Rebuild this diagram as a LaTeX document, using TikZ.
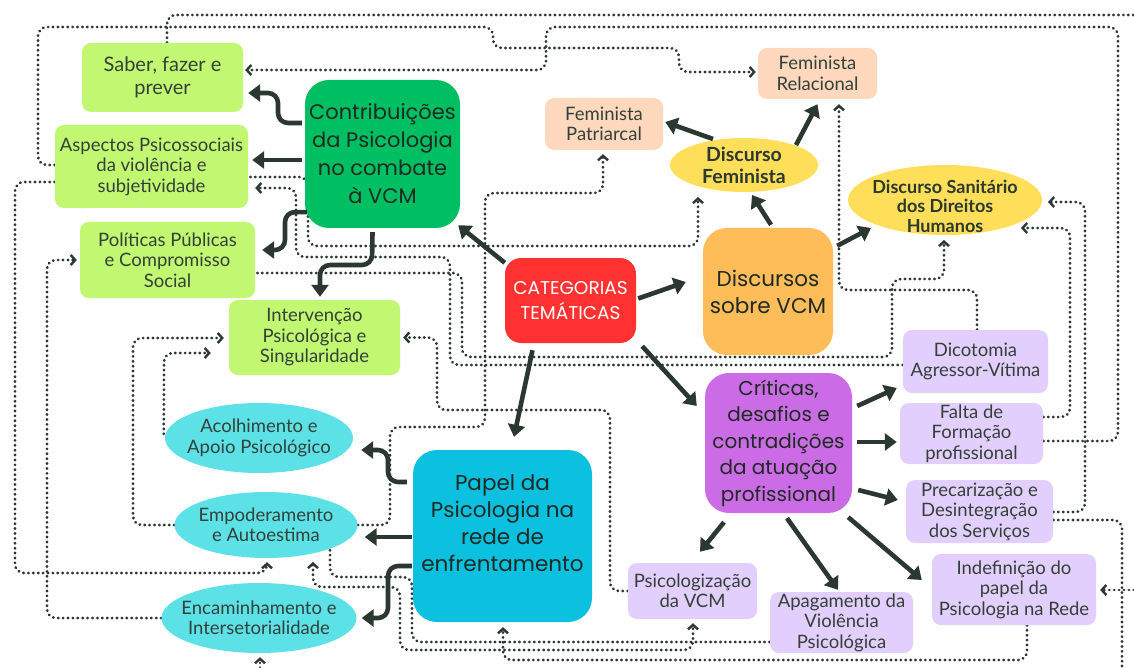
\documentclass[tikz,border=0pt]{standalone}
\usepackage{fontspec}
\setmainfont{Lato}
\newfontfamily\hand{Poppins}
\usetikzlibrary{arrows.meta,calc,backgrounds,shapes.geometric}
\definecolor{cLime}{HTML}{C2F771}
\definecolor{cDgreen}{HTML}{00BF63}
\definecolor{cRed}{HTML}{FF3131}
\definecolor{cOrange}{HTML}{FFBD59}
\definecolor{cYellow}{HTML}{FFDE59}
\definecolor{cPeach}{HTML}{FFD8BE}
\definecolor{cPurple}{HTML}{CB6CE6}
\definecolor{cLav}{HTML}{E2CFFD}
\definecolor{cCyan}{HTML}{0CC0DF}
\definecolor{cLcyan}{HTML}{5CE1E6}
\definecolor{cLine}{HTML}{2A3830}
\definecolor{cText}{HTML}{344039}
\definecolor{cBold}{HTML}{2B372F}
\definecolor{cBig}{HTML}{1E2A22}
\begin{document}
\begin{tikzpicture}[x=1pt,y=-1pt,
  lbl/.style={font=\fontsize{18.5}{20.5}\selectfont, text=cText, align=center, inner sep=0pt},
  bl/.style={font=\bfseries\fontsize{19.5}{22}\selectfont, text=cBold, align=center, inner sep=0pt},
  sbox/.style={lbl, rectangle, rounded corners=9pt},
  bbox/.style={rectangle, rounded corners=24pt, inner sep=0pt, align=center, text=cBig, font=\hand\fontsize{21}{28}\selectfont},
  btxt/.style={inner sep=0pt, align=center, text=cBig, font=\hand\fontsize{21.5}{27}\selectfont},
  elli/.style={ellipse, inner sep=0pt},
  sarr/.style={draw=cLine, line width=4.6pt, rounded corners=10pt, -{Triangle[length=12pt,width=17pt]}},
  dl/.style={draw=cLine, line width=2.8pt, dash pattern=on 0.4pt off 4.5pt, line cap=round, rounded corners=9pt},
  dtip/.style={-{Straight Barb[length=4.5pt,width=10pt,line width=2.4pt]}},
  dboth/.style={{Straight Barb[length=4.5pt,width=10pt,line width=2.4pt]}-{Straight Barb[length=4.5pt,width=10pt,line width=2.4pt]}}
]
\useasboundingbox (0,0) rectangle (1134,668);

% ---------- nodes ----------
\node[sbox, fill=cLime, minimum width=161pt, minimum height=69pt, font=\fontsize{20}{23}\selectfont] (saber) at (162.5,77.5) {Saber, fazer e\\prever};
\node[sbox, fill=cLime, minimum width=193pt, minimum height=83pt] (aspectos) at (151.5,166.5) {Aspectos Psicossociais\\da violência e\\subjetividade};
\node[sbox, fill=cLime, minimum width=175pt, minimum height=76pt] (politicas) at (167.5,260) {Políticas Públicas\\e Compromisso\\Social};
\node[sbox, fill=cLime, minimum width=171pt, minimum height=75pt] (interv) at (314.5,337.5) {Intervenção\\Psicológica e\\Singularidade};
\node[bbox, fill=cDgreen, minimum width=155pt, minimum height=148pt] (contrib) at (382.5,154) {Contribuições\\da Psicologia\\no combate\\à VCM};
\node[bbox, fill=cRed, text=white, minimum width=131pt, minimum height=85pt, rounded corners=16pt, font=\hand\fontsize{18.5}{25}\selectfont] (cat) at (570.5,300.5) {CATEGORIAS\\TEMÁTICAS};
\node[bbox, fill=cOrange, minimum width=130pt, minimum height=127pt, font=\hand\fontsize{21.5}{27}\selectfont] (disc) at (768,291.5) {Discursos\\sobre VCM};
\node[elli, fill=cYellow, minimum width=148pt, minimum height=54pt, label={[bl]center:{Discurso\\Feminista}}] (dfem) at (744,165) {};
\node[elli, fill=cYellow, minimum width=194pt, minimum height=70pt, label={[bl, font=\bfseries\fontsize{18}{19.5}\selectfont, yshift=-6pt]center:{Discurso Sanitário\\dos Direitos\\Humanos}}] (dsan) at (945,200) {};
\node[sbox, fill=cPeach, minimum width=118pt, minimum height=52pt] (fpat) at (604,124) {Feminista\\Patriarcal};
\node[sbox, fill=cPeach, minimum width=119pt, minimum height=51pt] (frel) at (817.5,73.5) {Feminista\\Relacional};
\node[bbox, fill=cPurple, minimum width=147pt, minimum height=140pt, font=\hand\fontsize{20}{26.5}\selectfont] (crit) at (778.5,443) {Críticas,\\desafios e\\contradições\\da atuação\\profissional};
\node[sbox, fill=cLav, minimum width=145pt, minimum height=63pt] (dico) at (975.5,361.5) {Dicotomia\\Agressor-Vítima};
\node[sbox, fill=cLav, minimum width=143pt, minimum height=61pt] (falta) at (971.5,433.5) {Falta de\\Formação\\profissional};
\node[sbox, fill=cLav, minimum width=147pt, minimum height=63pt] (prec) at (979.5,511.5) {Precarização e\\Desintegração\\dos Serviços};
\node[sbox, fill=cLav, minimum width=164pt, minimum height=71pt] (indef) at (1014,589.5) {Indefinição do\\papel da\\Psicologia na Rede};
\node[sbox, fill=cLav, minimum width=143pt, minimum height=61pt] (apag) at (841.5,622.5) {Apagamento da\\Violência\\Psicológica};
\node[sbox, fill=cLav, minimum width=129pt, minimum height=56pt] (psicz) at (692.5,591) {Psicologização\\da VCM};
\node[bbox, fill=cCyan, minimum width=179pt, minimum height=172pt, label={[btxt, yshift=13pt]center:{Papel da\\Psicologia na\\rede de\\enfrentamento}}] (papel) at (502.5,536) {};
\node[elli, fill=cLcyan, minimum width=188pt, minimum height=70pt, label={[lbl]center:{Acolhimento e\\Apoio Psicológico}}] (acolh) at (259,438) {};
\node[elli, fill=cLcyan, minimum width=183pt, minimum height=66pt, label={[lbl]center:{Empoderamento\\e Autoestima}}] (empod) at (266,525) {};
\node[elli, fill=cLcyan, minimum width=195pt, minimum height=70pt, label={[lbl]center:{Encaminhamento e\\Intersetorialidade}}] (encam) at (259,618) {};

\coordinate (eA) at (1134,15);
\coordinate (eP) at (1122,668);
\coordinate (eQ) at (1134,590);
\coordinate (eR) at (260,668);

% ---------- dotted connectors ----------
\begin{pgfonlayer}{background}
\fill[white] (0,0) rectangle (1134,668);
\draw[dl] ($(saber.north)+(4.5,0)$) -- (167,15) -- (eA);
\draw[dl,dtip] ($(falta.east)+(0,7.5)$) -- (1118,441) -- (1118,27) -- (546,27) -- (546,70) -- ($(saber.east)+(2,-7.5)$);
\draw[dl,dtip] ($(aspectos.west)+(0,-1.5)$) -- (38,165) -- (38,27) -- (493,27) -- (493,48) -- (679,48) -- (679,72) -- ($(frel.west)+(-2,-1.5)$);
\draw[dl,dtip] ($(aspectos.east)+(2,10.5)$) -- (308,177) -- (308,246) -- (698,246) -- ($(dfem.center)+(-46,32)$);
\draw[dl,dtip] ($(dico.west)+(0,3.5)$) -- (450,365) -- (450,257) -- (296,257) -- (296,188) -- ($(aspectos.east)+(7,21.5)$);
\draw[dl,dtip] ($(politicas.east)+(2,13)$) -- (462,273) -- (462,357) -- (892,357) -- (892,279) -- (944,279) -- ($(dsan.center)+(-1,40)$);
\draw[dl,dtip] ($(dico.north)+(1.5,0)$) -- (977,290) -- (839,290) -- ($(frel.south)+(21.5,5)$);
\draw[dl,dtip] (empod.east) -- (390,525) -- (390,427) -- (485,427) -- (485,193) -- (603,193) -- ($(fpat.south)+(-1,4)$);
\draw[dl,dtip] (psicz.west) -- (610,591) -- (610,410) -- (437,410) -- (437,337.5) -- ($(interv.east)+(3,0)$);
\draw[dl,dtip] ($(acolh.west)+(-1,-4)$) -- (164,353) -- ($(interv.west)+(-18,15.5)$);
\draw[dl,dtip] (empod.west) -- (133,525) -- (133,338) -- ($(interv.west)+(-5,0.5)$);
\draw[dl,dtip] (encam.west) -- (47,618) -- (47,260) -- ($(politicas.west)+(-3,0)$);
\draw[dl,dtip] ($(aspectos.west)+(0,15.5)$) -- (15,182) -- (15,573) -- (267,573) -- ($(empod.south)+(1,4)$);
\draw[dl] ($(empod.center)+(64,25)$) -- (330,577) -- (412,577) -- (412,642) -- ($(apag.west)+(0,19.5)$);
\draw[dl,dboth] ($(empod.center)+(47,37)$) -- (313,587) -- (400,587) -- (400,650) -- (693,650) -- ($(psicz.south)+(0.5,4)$);
\draw[dl,dtip] ($(indef.south)+(13,0)$) -- (1027,660) -- (503,660) -- ($(papel.south)+(0.5,5)$);
\draw[dl,dtip] ($(falta.east)+(0,-16.5)$) -- (1070,417) -- (1070,228) -- ($(dsan.center)+(76,28)$);
\draw[dl,dtip] ($(prec.east)+(0,0.5)$) -- (1085,512) -- (1085,202) -- ($(dsan.center)+(103,2)$);
\draw[dl] ($(prec.east)+(0,8.5)$) -- (1122,520) -- (eP);
\draw[dl,dtip] (eQ) -- ($(indef.east)+(4,0.5)$);
\draw[dl,dtip] (eR) -- ($(encam.south)+(1,4)$);
\end{pgfonlayer}

% ---------- solid arrows ----------
\draw[sarr] ($(cat.north west)+(0,5)$) -- ($(contrib.south east)+(-2,-3)$);
\draw[sarr] ($(cat.east)+(2,-2)$) -- ($(disc.west)+(-17,-9.5)$);
\draw[sarr] ($(cat.south)+(-38,7)$) -- ($(papel.north)+(11.5,-13)$);
\draw[sarr] ($(cat.south east)+(6,3)$) -- ($(crit.west)+(-8,-37)$);
\draw[sarr] ($(disc.north)+(3,-3)$) -- ($(dfem.center)+(8,30)$);
\draw[sarr] ($(dfem.center)+(-31,-26)$) -- ($(fpat.east)+(2,-2)$);
\draw[sarr] ($(dfem.center)+(52,-20)$) -- ($(frel.south)+(0,5)$);
\draw[sarr] ($(disc.north east)+(4,18)$) -- ($(dsan.center)+(-74,28)$);
\draw[sarr] ($(contrib.west)+(-3,-31)$) -- (278,123) -- (278,93) -- ($(saber.east)+(5,15.5)$);
\draw[sarr] ($(contrib.west)+(-3,6)$) -- ($(aspectos.east)+(4,-6.5)$);
\draw[sarr] ($(contrib.south west)+(2,-16)$) -- (285,212) -- (285,250) -- ($(politicas.east)+(7,-10)$);
\draw[sarr] ($(contrib.south)+(-10,4)$) -- (372,265) -- (320,265) -- ($(interv.north)+(5.5,-3)$);
\draw[sarr] ($(crit.east)+(5,-37)$) -- ($(dico.west)+(-6,26.5)$);
\draw[sarr] ($(crit.east)+(5,-1)$) -- ($(falta.west)+(-3,8.5)$);
\draw[sarr] ($(crit.east)+(6,47)$) -- ($(prec.west)+(-8,-11.5)$);
\draw[sarr] ($(crit.south east)+(-4,4)$) -- ($(indef.west)+(-10,-9.5)$);
\draw[sarr] ($(crit.south)+(8.5,5)$) -- ($(apag.north)+(-3.5,-2)$);
\draw[sarr] ($(crit.south)+(-54.5,9)$) -- ($(psicz.north)+(7.5,-11)$);
\draw[sarr] ($(papel.west)+(-6,-54)$) -- (388,482) -- (388,450) -- ($(acolh.east)+(8,12)$);
\draw[sarr] ($(papel.west)+(-1,1)$) -- ($(empod.east)+(7,12)$);
\draw[sarr] ($(papel.west)+(-1,30)$) -- (388,566) -- (388,618) -- ($(encam.east)+(5,0)$);
\end{tikzpicture}
\end{document}
